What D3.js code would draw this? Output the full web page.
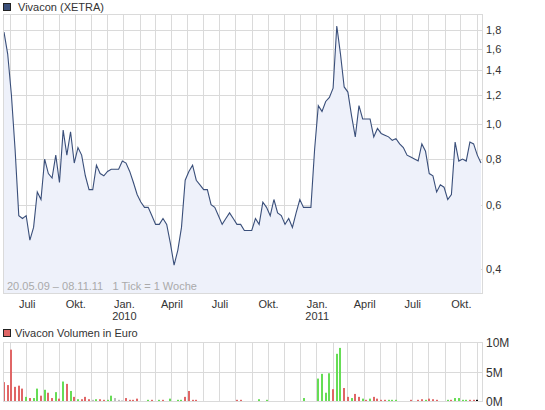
<!DOCTYPE html>
<html><head><meta charset="utf-8">
<script src="https://cdn.jsdelivr.net/npm/d3@7"></script>
<style>body{margin:0;background:#fff}text{font-family:"Liberation Sans",Arial,sans-serif;white-space:pre}</style>
</head><body><svg id="c" width="545" height="410"></svg>
<script>
// weekly closes, 20.05.09 - 08.11.11
const prices = [1.78,1.55,1.2,0.85,0.56,0.55,0.56,0.48,0.52,0.65,0.62,0.80,0.73,0.71,0.82,0.69,0.96,0.82,0.95,0.78,
0.86,0.82,0.72,0.66,0.66,0.77,0.73,0.72,0.74,0.75,0.75,0.75,0.79,0.78,0.74,0.69,0.64,0.61,0.59,0.59,
0.56,0.53,0.53,0.55,0.53,0.47,0.41,0.45,0.52,0.70,0.74,0.77,0.70,0.68,0.66,0.66,0.60,0.59,0.56,0.53,
0.55,0.57,0.55,0.53,0.53,0.51,0.51,0.51,0.55,0.53,0.61,0.59,0.56,0.62,0.57,0.56,0.53,0.55,0.52,0.57,
0.62,0.59,0.59,0.59,0.85,1.12,1.08,1.15,1.18,1.25,1.85,1.55,1.26,1.22,1.05,0.92,1.12,1.03,1.03,1.03,
0.92,0.97,0.94,0.93,0.92,0.90,0.91,0.88,0.86,0.82,0.81,0.80,0.79,0.88,0.84,0.73,0.72,0.65,0.68,0.67,
0.62,0.64,0.89,0.79,0.80,0.79,0.89,0.88,0.82,0.78];
// volume in Mio. Euro, and colour (r = down, g = up, n = unchanged)
const volume = [3.2,2.7,8.7,2.4,2.6,2.1,0.7,0.5,0.5,2.1,0.9,1.9,1.4,0.5,1.5,0.4,3.3,2.9,1.7,0.7,
0.3,0.3,0.7,0.3,0.2,0.3,0.3,0.2,0.2,0.9,0.5,0.2,0.1,0.5,0.2,0.2,0.4,0,0,0.2,
0.2,0,0.2,0.2,0,0.4,0,0.2,0.2,0.7,1.7,0.2,0.2,0,0,0,0,0,0,0,
0,0,0,0.2,0.2,0,0,0,0,0.3,0,0.2,0,0,0,0,0,0,0,0,
0,0.5,0,0,0,3.8,4.6,1.4,4.7,2.0,8.0,9.0,2.2,0.7,0.5,1.2,0.7,0.4,0.2,0.4,
0.7,0.4,0.2,0.2,0.2,0.2,0.2,0,0,0,0.2,0,0.2,0.3,0.2,0.4,0.3,0.2,0,0,
0.2,0.2,0.5,0.5,0.2,0.2,0.2,0.2,0.2,0];
const volColor = "rrrrrrgrggrgrrgrgrgrgrrrngrrggnnnrrrrrrgrggrrggggrrrrrrrrrrrrrrrrrrrggggggggggggggggrggggrggrrgrrgrgrrrrggggnnrgrrgrrrrggrggggrr".split("");
const priceTicks = [0.4,0.6,0.8,1.0,1.2,1.4,1.6,1.8];
const volTicks = [0,5,10];
const quarterNames = {6:"Juli",9:"Okt.",0:"Jan.",3:"April"};

const svg = d3.select("#c");
const start = new Date(2009,4,20);
const dates = prices.map((p,i)=>d3.timeWeek.offset(start,i));
const x = d3.scaleTime().domain([start, dates[dates.length-1]]).range([4,481]);
const y = d3.scaleLog().domain([0.344,1.995]).range([293,14]);
const yv = d3.scaleLinear().domain([0,10]).range([401,342]);
const grid = "#dadada";
const L = 3, R = 483;

// price panel
svg.append("text").attr("x",18).attr("y",11).attr("font-size",11).attr("fill","#333").text("Vivacon (XETRA)");
svg.append("rect").attr("x",3.5).attr("y",3.5).attr("width",7).attr("height",7).attr("fill","#3a4f7a").attr("stroke","#222");
const months = d3.timeMonth.range(d3.timeMonth.ceil(start), new Date(2011,10,9));
svg.append("g").selectAll("line").data(months).join("line")
  .attr("x1",d=>Math.round(x(d))+0.5).attr("x2",d=>Math.round(x(d))+0.5).attr("y1",14).attr("y2",293)
  .attr("stroke",grid);
svg.append("g").selectAll("line").data(priceTicks).join("line")
  .attr("x1",L).attr("x2",R).attr("y1",d=>Math.round(y(d))+0.5).attr("y2",d=>Math.round(y(d))+0.5).attr("stroke",grid);
const area = d3.area().x((d,i)=>x(dates[i])).y0(293).y1(d=>y(d));
const line = d3.line().x((d,i)=>x(dates[i])).y(d=>y(d));
svg.append("path").attr("d",area(prices)).attr("fill","#eef1fa");
svg.append("path").attr("d",line(prices)).attr("fill","none").attr("stroke","#3a4f7a").attr("stroke-width",1.1);
svg.append("rect").attr("x",L+0.5).attr("y",14.5).attr("width",R-L-1).attr("height",279).attr("fill","none").attr("stroke",grid);
svg.append("g").selectAll("text").data(priceTicks).join("text")
  .attr("x",486).attr("y",d=>y(d)+4).attr("font-size",11).attr("fill","#333").text(d=>d3.format(".1f")(d).replace(".",","));
svg.append("text").attr("x",7).attr("y",290).attr("font-size",11).attr("fill","#aaa")
  .text("20.05.09 – 08.11.11   1 Tick = 1 Woche");
const quarters = months.filter(d=>d.getMonth()%3===0);
svg.append("g").selectAll("text").data(quarters).join("text")
  .attr("x",d=>x(d)+1).attr("y",308).attr("text-anchor","middle").attr("font-size",11).attr("fill","#333")
  .text(d=>quarterNames[d.getMonth()]);
svg.append("g").selectAll("text").data(quarters.filter(d=>d.getMonth()===0)).join("text")
  .attr("x",d=>x(d)+1).attr("y",320).attr("text-anchor","middle").attr("font-size",11).attr("fill","#333")
  .text(d=>d.getFullYear());

// volume panel
svg.append("text").attr("x",15).attr("y",337).attr("font-size",11).attr("fill","#333").text("Vivacon Volumen in Euro");
svg.append("rect").attr("x",3.5).attr("y",329.5).attr("width",7).attr("height",7).attr("fill","#e06666").attr("stroke","#222");
svg.append("g").selectAll("line").data(months).join("line")
  .attr("x1",d=>Math.round(x(d))+0.5).attr("x2",d=>Math.round(x(d))+0.5).attr("y1",342).attr("y2",401).attr("stroke",grid);
svg.append("g").selectAll("line").data(volTicks).join("line")
  .attr("x1",L).attr("x2",R).attr("y1",d=>Math.round(yv(d))+0.5).attr("y2",d=>Math.round(yv(d))+0.5).attr("stroke",grid);
const cols = {r:"#e06666",g:"#66dd55",n:"#bbbbbb"};
svg.append("g").selectAll("rect").data(volume).join("rect")
  .attr("x",(d,i)=>Math.round(x(dates[i]))-1).attr("width",2)
  .attr("y",d=>yv(d)).attr("height",d=>yv(0)-yv(d)).attr("fill",(d,i)=>cols[volColor[i]]);
svg.append("rect").attr("x",L+0.5).attr("y",342.5).attr("width",R-L-1).attr("height",59).attr("fill","none").attr("stroke",grid);
svg.append("g").selectAll("text").data(volTicks).join("text")
  .attr("x",486).attr("y",d=>yv(d)+5).attr("font-size",12).attr("fill","#333").text(d=>d+"M");
</script></body></html>
